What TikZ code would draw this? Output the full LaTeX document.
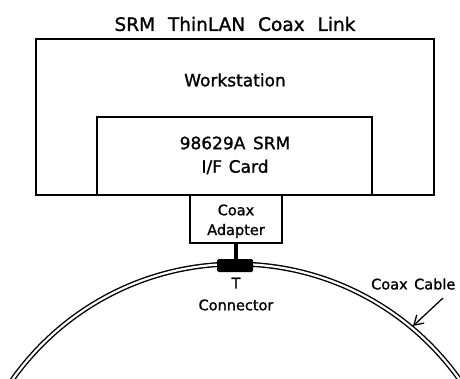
\documentclass[tikz,border=0pt]{standalone}
\usepackage{fontspec}
\setmainfont[FakeBold=1.2]{DejaVu Sans}
\usetikzlibrary{arrows.meta}
\begin{document}
\begin{tikzpicture}[x=1pt,y=-1pt,
  boxline/.style={draw, line width=1.4pt},
  lbl/.style={inner sep=0pt, font=\fontsize{17}{20}\selectfont},
  small/.style={inner sep=0pt, font=\fontsize{14.5}{20}\selectfont, align=center},
  cable/.style={draw, line width=1.4pt, double=white, double distance=2.2pt}]
\useasboundingbox (0,0) rectangle (460,379);
\begin{scope}
\clip (0,0) rectangle (460,379);
\draw[cable] (236,538) circle[radius=274];
\end{scope}
% boxes
\draw[boxline] (36,39) rectangle (434,195);
\draw[boxline] (97,195) -- (97,117) -- (372,117) -- (372,195);
\draw[boxline, fill=white] (190,195) rectangle (282,243);
\coordinate (stemtop) at (236,243);
\coordinate (stembot) at (236,262);
\draw[line width=4pt] (stemtop) -- (stembot);
\node[fill=black, rounded corners=1.5pt, minimum width=36pt, minimum height=13pt, inner sep=0pt] (tcon) at (235,265.5) {};
% texts
\node[inner sep=0pt, font=\fontsize{18.5}{22}\selectfont] (title) at (235,24) {SRM\hspace{0.7em}ThinLAN\hspace{0.7em}Coax\hspace{0.7em}Link};
\node[lbl] (ws) at (235,80) {Workstation};
\node[lbl] (card1) at (235,143) {98629A\hspace{0.45em}SRM};
\node[lbl] (card2) at (235,167) {I/F\hspace{0.4em}Card};
\node[small] (ad1) at (236,210) {Coax};
\node[small] (ad2) at (236,231) {Adapter};
\node[small] (tl) at (236,283) {T};
\node[small] (cl) at (236,305) {Connector};
\node[small, anchor=west] (cc) at (371,284) {Coax\hspace{0.45em}Cable};
\coordinate (arrtip) at (413,326);
\draw[line width=1.3pt, -{Straight Barb[length=9pt,width=11pt]}] (443,298) -- (arrtip);
\end{tikzpicture}
\end{document}
